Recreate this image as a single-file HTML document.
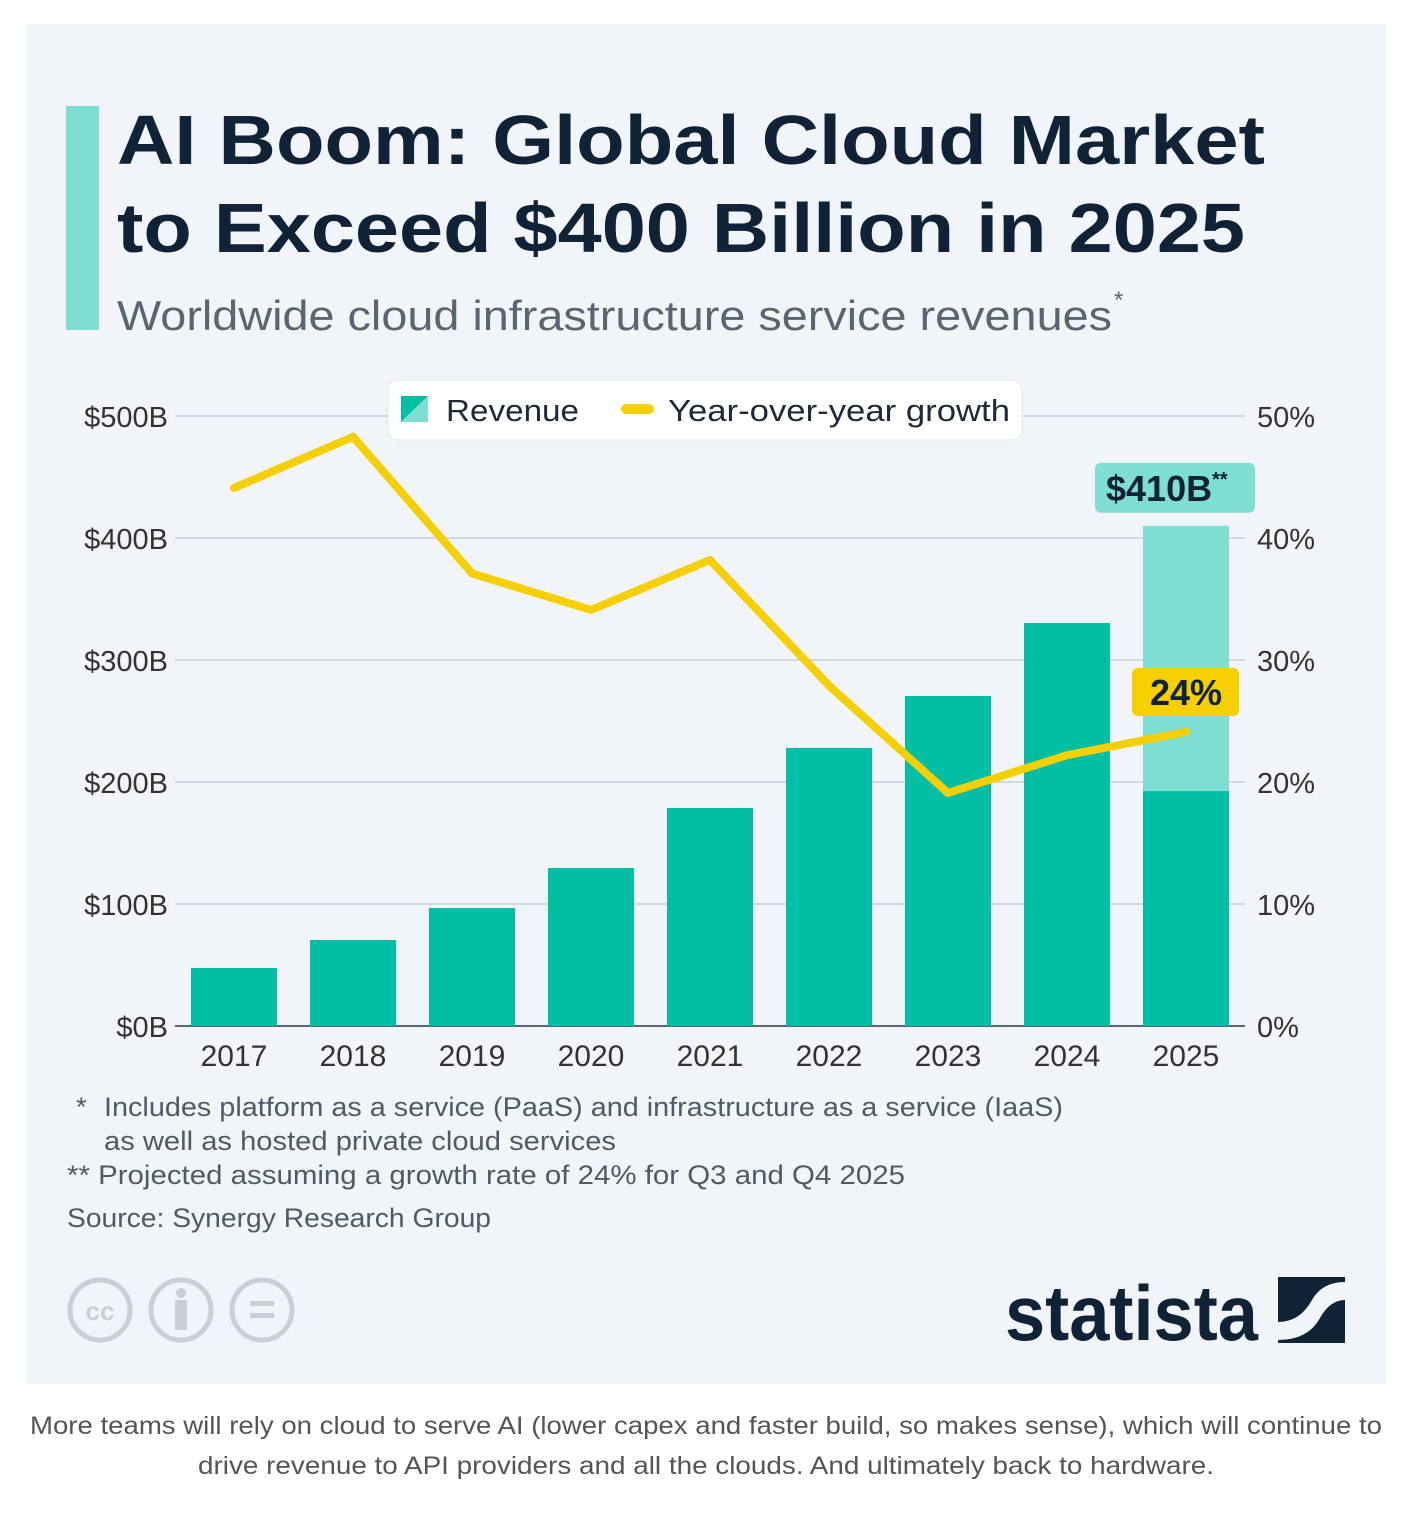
<!DOCTYPE html>
<html><head><meta charset="utf-8"><style>
html,body{margin:0;padding:0;background:#fff;}
svg{display:block;font-family:"Liberation Sans",sans-serif;}
</style></head><body>
<svg id="c" width="1426" height="1522" viewBox="0 0 1426 1522">
<rect x="26" y="24" width="1360" height="1360" fill="#f1f5f9"/>
<rect x="66" y="106" width="33" height="224" fill="#7fded2"/>
<text x="117" y="164" font-size="70" font-weight="bold" fill="#0f2236" textLength="1148" lengthAdjust="spacingAndGlyphs">AI Boom: Global Cloud Market</text>
<text x="117" y="252" font-size="70" font-weight="bold" fill="#0f2236" textLength="1128" lengthAdjust="spacingAndGlyphs">to Exceed $400 Billion in 2025</text>
<text x="117" y="330" font-size="42" fill="#5a6573" textLength="995" lengthAdjust="spacingAndGlyphs">Worldwide cloud infrastructure service revenues</text>
<text x="1114" y="308" font-size="24" fill="#5a6573">*</text>
<g id="grid"></g>
<g id="bars"></g>
<g id="line"></g>
<g id="labels"></g>
<g>
<rect x="388" y="380" width="634" height="60" rx="10" fill="#fff" stroke="#e3e7ec"/>
<polygon points="401,396 428,396 401,422" fill="#00bfa5"/>
<polygon points="428,396 428,422 401,422" fill="#7fded2"/>
<text x="446" y="421" font-size="31" fill="#1e2a36" textLength="133" lengthAdjust="spacingAndGlyphs">Revenue</text>
<rect x="621" y="404" width="33" height="10" rx="5" fill="#f5cf00"/>
<text x="668" y="421" font-size="31" fill="#1e2a36" textLength="342" lengthAdjust="spacingAndGlyphs">Year-over-year growth</text>
</g>
<g font-size="27" fill="#505a66">
<text x="76" y="1116">*</text>
<text x="104" y="1116" textLength="959" lengthAdjust="spacingAndGlyphs">Includes platform as a service (PaaS) and infrastructure as a service (IaaS)</text>
<text x="104" y="1150" textLength="512" lengthAdjust="spacingAndGlyphs">as well as hosted private cloud services</text>
<text x="67" y="1184" textLength="838" lengthAdjust="spacingAndGlyphs">** Projected assuming a growth rate of 24% for Q3 and Q4 2025</text>
<text x="67" y="1227" textLength="424" lengthAdjust="spacingAndGlyphs">Source: Synergy Research Group</text>
</g>
<g fill="none" stroke="#c9cfd6" stroke-width="5">
<circle cx="100" cy="1310" r="30"/><circle cx="181" cy="1310" r="30"/><circle cx="262" cy="1310" r="30"/>
</g>
<text x="100" y="1320" font-size="26" font-weight="bold" fill="#c9cfd6" text-anchor="middle">cc</text>
<circle cx="181" cy="1293" r="5" fill="#c9cfd6"/><rect x="175" y="1300" width="12" height="30" fill="#c9cfd6"/>
<rect x="250" y="1301" width="24" height="5" fill="#c9cfd6"/><rect x="250" y="1313" width="24" height="5" fill="#c9cfd6"/>
<text x="1005" y="1340" font-size="78" font-weight="bold" fill="#0f2236" textLength="253" lengthAdjust="spacingAndGlyphs">statista</text>
<rect x="1278" y="1277" width="67" height="66" fill="#0f2236"/>
<path d="M1278 1322 Q1300 1322 1312 1300 Q1322 1282 1345 1282 L1345 1300 Q1330 1300 1320 1318 Q1308 1340 1278 1340 Z" fill="#f1f5f9"/>
<g font-size="25" fill="#555" text-anchor="middle">
<text x="706" y="1434" textLength="1352" lengthAdjust="spacingAndGlyphs">More teams will rely on cloud to serve AI (lower capex and faster build, so makes sense), which will continue to</text>
<text x="706" y="1474" textLength="1016" lengthAdjust="spacingAndGlyphs">drive revenue to API providers and all the clouds. And ultimately back to hardware.</text>
</g>
</svg>
<script>
const years = ["2017","2018","2019","2020","2021","2022","2023","2024","2025"];
const revenue = [47.5, 70.5, 96.7, 129.5, 178.7, 227.9, 270.5, 330.3, 192.6];
const projected = [0, 0, 0, 0, 0, 0, 0, 0, 217.4];
const growth = [44.1, 48.3, 37.1, 34.1, 38.2, 27.9, 19.1, 22.2, 24.1];
const leftTicks = ["$0B","$100B","$200B","$300B","$400B","$500B"];
const rightTicks = ["0%","10%","20%","30%","40%","50%"];
const NS="http://www.w3.org/2000/svg";
const y0=1026, yTop=416;
const yL=v=>y0-(v/500)*(y0-yTop);
const yR=v=>y0-(v/50)*(y0-yTop);
const xC=i=>234+i*119;
const bw=86;
function mk(tag,attrs,parent,txt){const e=document.createElementNS(NS,tag);for(const k in attrs)e.setAttribute(k,attrs[k]);if(txt!==undefined)e.textContent=txt;document.getElementById(parent).appendChild(e);return e;}
leftTicks.forEach((t,i)=>{
  const y=yL(i*100);
  const g=mk('line',{x1:175,x2:1245,y1:y,y2:y,stroke:i===0?'#5a6573':'#c9cfd6','stroke-width':i===0?2:1.5},'grid');
  
  
  const l=mk('text',{x:168,y:y+11,'font-size':29,fill:'#333','text-anchor':'end'},'grid',t);
  
  
  const r=mk('text',{x:1257,y:y+11,'font-size':29,fill:'#333'},'grid',rightTicks[i]);
  
  
});
years.forEach((yr,i)=>{
  const b=mk('rect',{x:xC(i)-bw/2,y:yL(revenue[i]),width:bw,height:y0-yL(revenue[i]),fill:'#00bfa5'},'bars');
  
  
  if(projected[i]>0){
    const p=mk('rect',{x:xC(i)-bw/2,y:yL(revenue[i]+projected[i]),width:bw,height:yL(revenue[i])-yL(revenue[i]+projected[i]),fill:'#7fded2'},'bars');
    
    
  }
  const t=mk('text',{x:xC(i),y:1066,'font-size':30,fill:'#333','text-anchor':'middle'},'labels',yr);
  
  
});
const pts=growth.map((g,i)=>xC(i)+','+yR(g)).join(' ');
const pl=mk('polyline',{points:pts,fill:'none',stroke:'#f5cf00','stroke-width':8,'stroke-linejoin':'round','stroke-linecap':'round'},'line');


const last=years.length-1;
const tot=revenue[last]+projected[last];
const tb=mk('rect',{x:xC(last)-91,y:yL(tot)-63,width:160,height:50,rx:6,fill:'#7fded2'},'labels');


const tt=mk('text',{x:xC(last)-80,y:yL(tot)-25,'font-size':36,'font-weight':'bold',fill:'#0f2236'},'labels','$'+Math.round(tot)+'B');


const ts=mk('text',{x:xC(last)+26,y:yL(tot)-40,'font-size':20,'font-weight':'bold',fill:'#0f2236'},'labels','**');


const gb=mk('rect',{x:xC(last)-54,y:yR(growth[last])-64,width:107,height:48,rx:6,fill:'#f5cf00'},'labels');


const gt=mk('text',{x:xC(last),y:yR(growth[last])-27,'font-size':36,'font-weight':'bold',fill:'#0f2236','text-anchor':'middle'},'labels',Math.round(growth[last])+'%');


</script>
</body></html>
